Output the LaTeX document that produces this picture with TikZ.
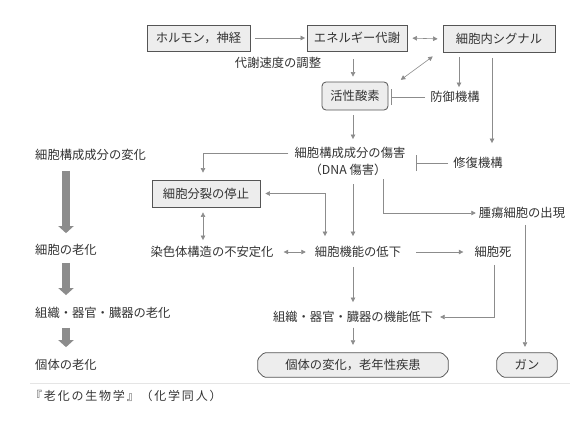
\documentclass[tikz,border=0pt]{standalone}
\usepackage{fontspec}
\setmainfont{Noto Sans CJK JP}
\usetikzlibrary{arrows.meta,calc}
\definecolor{txt}{HTML}{333333}
\definecolor{ln}{HTML}{8C8C8C}
\definecolor{bx}{HTML}{555555}
\definecolor{bxfill}{HTML}{EDEDED}
\pgfdeclarelayer{bg}
\pgfsetlayers{bg,main}
\newcommand{\chamferbox}[1]{%
  \begin{pgfonlayer}{bg}
    \draw[draw=bx, fill=bxfill, line width=0.8pt, rounded corners=1.5pt]
      ($(#1.north west)+(6,0)$) -- ($(#1.north east)+(-6,0)$) --
      ($(#1.north east)+(0,6)$) -- ($(#1.south east)+(0,-6)$) --
      ($(#1.south east)+(-6,0)$) -- ($(#1.south west)+(6,0)$) --
      ($(#1.south west)+(0,-6)$) -- ($(#1.north west)+(0,6)$) -- cycle;
  \end{pgfonlayer}}
\begin{document}
\begin{tikzpicture}[x=1pt,y=-1pt,
  every node/.style={font=\fontsize{12.3}{14}\selectfont, text=txt, inner sep=0pt},
  lbl/.style={},
  rbox/.style={draw=bx, fill=bxfill, line width=0.8pt, minimum height=26pt},
  rrbox/.style={rbox, rounded corners=4pt},
  cbox/.style={minimum height=24pt},
  conn/.style={draw=ln, line width=0.6pt, -{Triangle[length=4.5pt,width=4.5pt]}},
  dconn/.style={draw=ln, line width=0.6pt, {Triangle[length=4.5pt,width=4.5pt]}-{Triangle[length=4.5pt,width=4.5pt]}},
  tee/.style={draw=ln, line width=0.6pt, -{Bar[width=16pt,line width=0.6pt]}},
  fat/.style={draw=ln, line width=8.5pt, -{Triangle[length=7pt,width=15pt]}}
]
\useasboundingbox (0,0) rectangle (588,426);
\begin{pgfonlayer}{bg}
\fill[white] (0,0) rectangle (588,426);
\end{pgfonlayer}

% top row
\node[rbox, minimum width=103pt] (hormone) at (198.5,38) {ホルモン，神経};
\node[rbox, minimum width=100pt] (energy) at (357,38) {エネルギー代謝};
\node[rbox, minimum width=112pt, minimum height=27pt] (signal) at (499,39) {細胞内シグナル};
\node[lbl] (taisha) at (278,63) {代謝速度の調整};
\node[rrbox, minimum width=66pt, minimum height=28pt] (ros) at (355,96) {活性酸素};
\node[lbl] (bougyo) at (455,97) {防御機構};

% damage
\node[lbl] (dmg1) at (350,153) {細胞構成成分の傷害};
\node[lbl] (dmg2) at (348,170) {（DNA 傷害）};
\node[lbl] (shufuku) at (478,163) {修復機構};
\node[rbox, minimum width=108pt, minimum height=27pt] (arrest) at (206,193.5) {細胞分裂の停止};
\node[lbl] (tumor) at (522,213) {腫瘍細胞の出現};

% middle row
\node[lbl] (chrom) at (212,252) {染色体構造の不安定化};
\node[lbl] (func) at (358,252) {細胞機能の低下};
\node[lbl] (death) at (493,252) {細胞死};
\node[lbl] (organ) at (353,317) {組織・器官・臓器の機能低下};
\node[cbox, minimum width=190pt] (indiv) at (353,365) {個体の変化，老年性疾患};
\node[cbox, minimum width=60pt] (gan) at (527,365) {ガン};
\chamferbox{indiv}
\chamferbox{gan}

% left column
\node[lbl, anchor=west] (l1) at (35,155) {細胞構成成分の変化};
\node[lbl, anchor=west] (l2) at (35,250) {細胞の老化};
\node[lbl, anchor=west] (l3) at (35,313) {組織・器官・臓器の老化};
\node[lbl, anchor=west] (l4) at (35,365) {個体の老化};

\draw[fat] ($(l1.south west)+(31,10)$) -- ($(l2.north west)+(31,-11)$);
\draw[fat] ($(l2.south west)+(31,7)$) -- ($(l3.north west)+(31,-12)$);
\draw[fat] ($(l3.south west)+(31,9)$) -- ($(l4.north west)+(31,-12)$);

% caption and rule
\coordinate (ruleL) at (30,383);
\coordinate (ruleR) at (570,383);
\draw[gray!20, line width=0.6pt] (ruleL) -- (ruleR);
\node[anchor=west, font=\fontsize{12}{13}\selectfont\addfontfeatures{LetterSpace=15}] (cap) at (30,396) {『老化の生物学』（化学同人）};

% connectors
\draw[conn, shorten <=5pt, shorten >=1.5pt] (hormone.east) -- (energy.west);
\draw[dconn, shorten <=5pt, shorten >=5pt] (energy.east) -- (signal.west);
\draw[conn, shorten <=8pt, shorten >=5pt] ([xshift=-4pt]energy.south) -- ([xshift=-2pt]ros.north);
\draw[dconn, shorten <=6pt, shorten >=3pt] ([xshift=-5pt]signal.south west) -- ([xshift=10pt]ros.north east);
\draw[conn, shorten <=4pt, shorten >=4pt] ([xshift=-40pt]signal.south) -- ([xshift=4pt]bougyo.north);
\draw[conn, shorten <=5pt] ([xshift=-7pt]signal.south) -- ([xshift=14pt,yshift=14pt]shufuku.north);
\draw[tee, shorten <=5pt] (bougyo.west) -- ([xshift=-39pt]bougyo.west);
\draw[conn, shorten <=5pt, shorten >=8pt] ([xshift=-2pt]ros.south) -- ([xshift=3pt]dmg1.north);
\draw[tee, shorten <=5pt] (shufuku.west) -- ([xshift=-37pt]shufuku.west);
\draw[conn, shorten <=6pt, shorten >=7pt] (dmg1.west) -| ([xshift=-3pt]arrest.north);
\draw[dconn, shorten <=5pt, shorten >=10pt] (arrest.east) -| ([xshift=-33pt]func.north);
\draw[conn, shorten <=8pt, shorten >=10pt] ([xshift=5pt]dmg2.south) -- ([xshift=-5pt]func.north);
\draw[conn, shorten <=3pt, shorten >=3pt] ([xshift=35pt]dmg2.south) |- (tumor.west);
\draw[dconn, shorten <=5pt, shorten >=6pt] ([xshift=-3pt]arrest.south) -- ([xshift=-9pt]chrom.north);
\draw[dconn, shorten <=10pt, shorten >=9pt] (chrom.east) -- (func.west);
\draw[conn, shorten <=15pt, shorten >=11pt] (func.east) -- (death.west);
\draw[conn, shorten <=9pt, shorten >=9pt] ([xshift=-5pt]func.south) -- (organ.north);
\draw[conn, shorten <=7pt, shorten >=7pt] ([xshift=1pt]death.south) |- (organ.east);
\draw[conn, shorten <=5pt, shorten >=8pt] (organ.south) -- (indiv.north);
\draw[conn, shorten <=6pt, shorten >=6pt] ([xshift=3pt]tumor.south) -- ([xshift=-2pt]gan.north);
\end{tikzpicture}
\end{document}
